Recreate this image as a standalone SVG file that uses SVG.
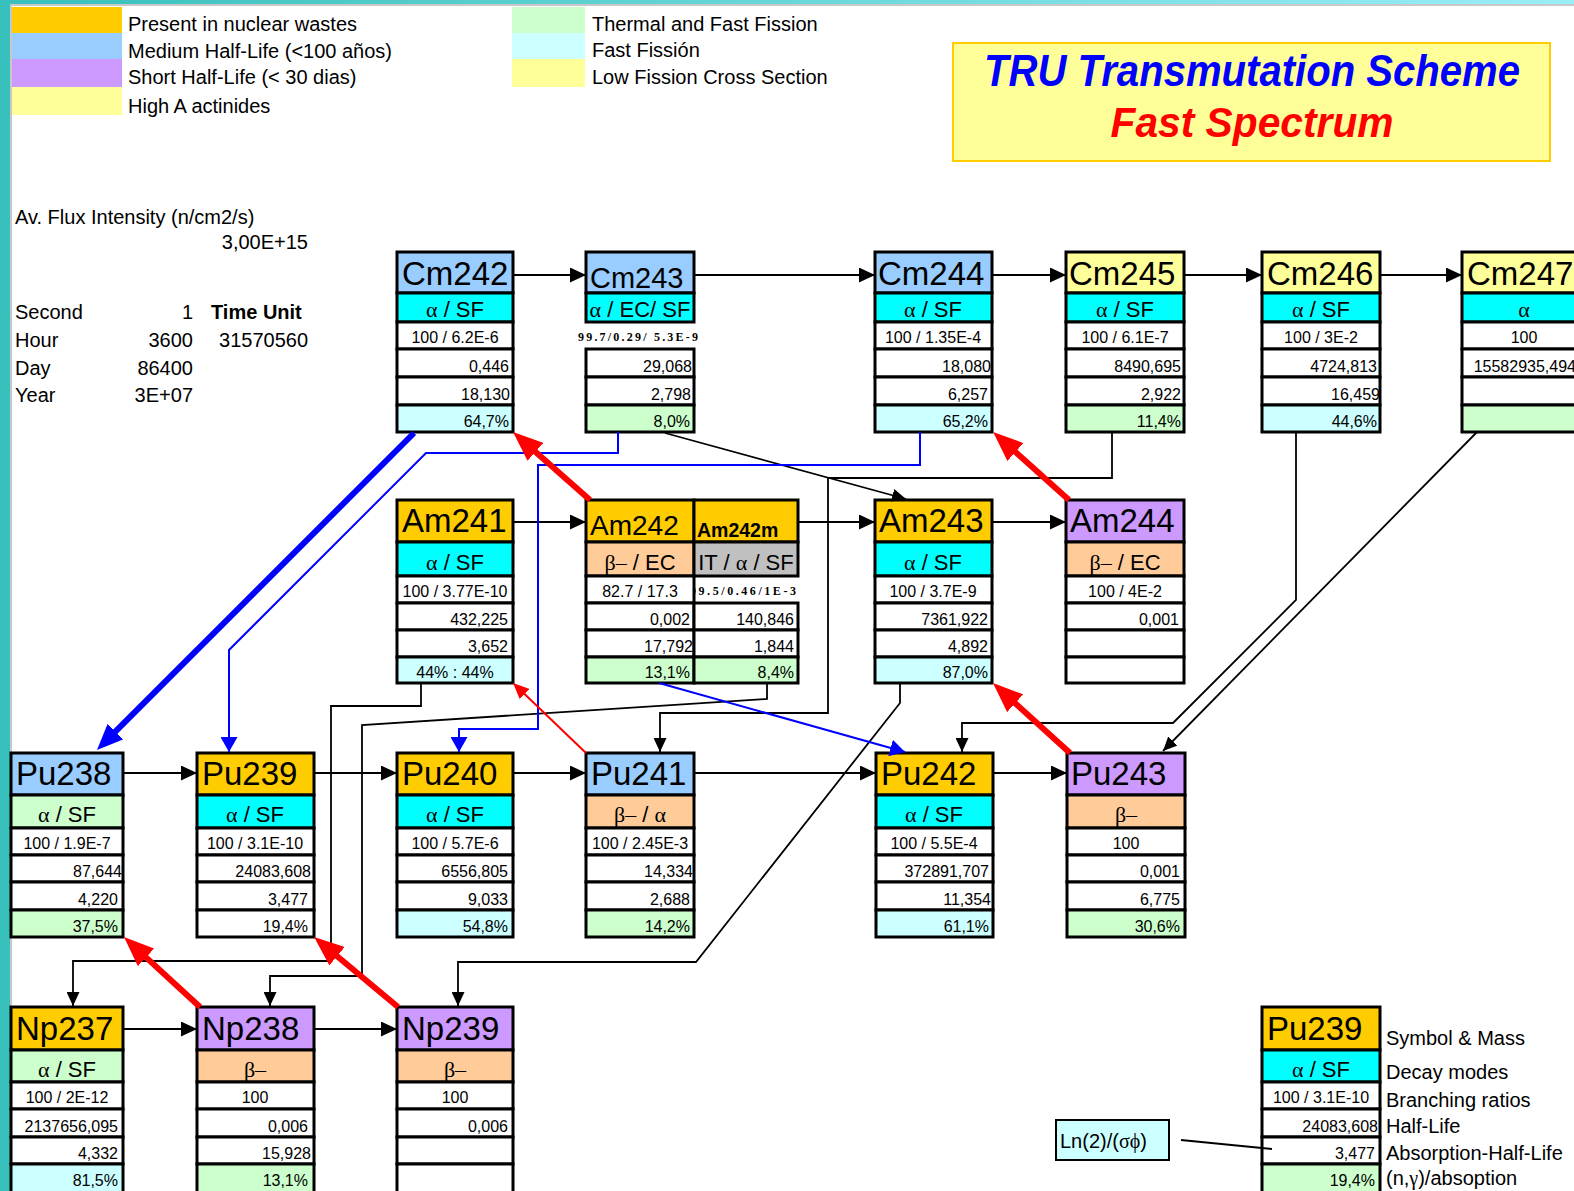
<svg xmlns="http://www.w3.org/2000/svg" width="1574" height="1191" viewBox="0 0 1574 1191" font-family="'Liberation Sans', Arial, sans-serif">
<defs>
<linearGradient id="tg" x1="0" x2="1" y1="0" y2="0"><stop offset="0" stop-color="#38C0BC"/><stop offset="1" stop-color="#9AEEF6"/></linearGradient>
<marker id="mk" markerUnits="userSpaceOnUse" markerWidth="16" markerHeight="15" refX="16" refY="7.5" orient="auto"><path d="M0,0L16,7.5L0,15z" fill="#000"/></marker>
<marker id="mks" markerUnits="userSpaceOnUse" markerWidth="14" markerHeight="13" refX="14" refY="6.5" orient="auto"><path d="M0,0L14,6.5L0,13z" fill="#000"/></marker>
<marker id="mbl" markerUnits="userSpaceOnUse" markerWidth="15" markerHeight="17" refX="15" refY="8.5" orient="auto"><path d="M0,0L15,8.5L0,17z" fill="#00F"/></marker>
<marker id="mbt" markerUnits="userSpaceOnUse" markerWidth="26" markerHeight="22" refX="10" refY="11" orient="auto"><path d="M0,0L26,11L0,22z" fill="#00F"/></marker>
<marker id="mr" markerUnits="userSpaceOnUse" markerWidth="30" markerHeight="24" refX="10" refY="12" orient="auto"><path d="M0,0L30,12L0,24z" fill="#F00"/></marker>
<marker id="mrs" markerUnits="userSpaceOnUse" markerWidth="16" markerHeight="14" refX="8" refY="7" orient="auto"><path d="M0,0L16,7L0,14z" fill="#F00"/></marker>
<clipPath id="c242m"><rect x="695" y="576" width="103" height="27"/></clipPath>
</defs>
<style>
.c{stroke:#000;stroke-width:3}
.h{font-size:33px}
.d{font-size:22px;text-anchor:middle}
.s{font-family:'Liberation Serif','Times New Roman',serif}
.b{font-size:16px;text-anchor:middle}
.r{font-size:16px;text-anchor:end}
.lg{font-size:20px}
.k{fill:none;stroke:#000;stroke-width:1.8}
.bl{fill:none;stroke:#00F;stroke-width:2}
.rd{fill:none;stroke:#F00;stroke-width:6}
.sb{font-family:'Liberation Serif','Times New Roman',serif;font-weight:bold;font-size:12px}
</style>
<rect x="0" y="0" width="1574" height="1191" fill="#fff"/>
<g id="frame">
<rect x="0" y="0" width="10" height="1191" fill="#38C0BC"/>
<rect x="0" y="0" width="1574" height="4" fill="url(#tg)"/>
<rect x="10" y="4" width="1564" height="2" fill="#C8C8C8"/>
<rect x="10" y="4" width="2" height="1187" fill="#C8C8C8"/>
</g>
<g id="legend-colors">
<rect x="12" y="7" width="110" height="26" fill="#FFCC00"/>
<rect x="12" y="33" width="110" height="26" fill="#99CCFF"/>
<rect x="12" y="59" width="110" height="28" fill="#CC99FF"/>
<rect x="12" y="87" width="110" height="28" fill="#FFFF99"/>
<text class="lg" x="128" y="31">Present in nuclear wastes</text>
<text class="lg" x="128" y="58">Medium Half-Life (&lt;100 años)</text>
<text class="lg" x="128" y="84">Short Half-Life (&lt; 30 dias)</text>
<text class="lg" x="128" y="113">High A actinides</text>
<rect x="512" y="7" width="73" height="26" fill="#CCFFCC"/>
<rect x="512" y="33" width="73" height="26" fill="#CCFFFF"/>
<rect x="512" y="59" width="73" height="28" fill="#FFFF99"/>
<text class="lg" x="592" y="31">Thermal and Fast Fission</text>
<text class="lg" x="592" y="57">Fast Fissión</text>
<text class="lg" x="592" y="84">Low Fission Cross Section</text>
</g>
<g id="title">
<rect x="953" y="43" width="597" height="118" fill="#FFFF99" stroke="#FFCC00" stroke-width="2"/>
<text x="1252" y="86" text-anchor="middle" font-size="44" font-weight="bold" font-style="italic" fill="#0000FF" textLength="536" lengthAdjust="spacingAndGlyphs">TRU Transmutation Scheme</text>
<text x="1252" y="137" text-anchor="middle" font-size="43" font-weight="bold" font-style="italic" fill="#FF0000" textLength="283" lengthAdjust="spacingAndGlyphs">Fast Spectrum</text>
</g>
<g id="info" font-size="20">
<text x="15" y="224">Av. Flux Intensity (n/cm2/s)</text>
<text x="308" y="249" text-anchor="end">3,00E+15</text>
<text x="15" y="319">Second</text><text x="193" y="319" text-anchor="end">1</text><text x="211" y="319" font-weight="bold">Time Unit</text>
<text x="15" y="347">Hour</text><text x="193" y="347" text-anchor="end">3600</text><text x="308" y="347" text-anchor="end">31570560</text>
<text x="15" y="375">Day</text><text x="193" y="375" text-anchor="end">86400</text>
<text x="15" y="402">Year</text><text x="193" y="402" text-anchor="end">3E+07</text>
</g>

<g id="Cm242">
<rect class="c" x="397" y="252" width="116" height="41" fill="#99CCFF"/><rect class="c" x="397" y="293" width="116" height="29" fill="#00FFFF"/><rect class="c" x="397" y="322" width="116" height="27" fill="#fff"/><rect class="c" x="397" y="349" width="116" height="28" fill="#fff"/><rect class="c" x="397" y="377" width="116" height="28" fill="#fff"/><rect class="c" x="397" y="405" width="116" height="27" fill="#CCFFFF"/>
<text class="h" x="402" y="285">Cm242</text><text class="d" x="455" y="317"><tspan class="s">α</tspan> / SF</text><text class="b" x="455" y="343">100 / 6.2E-6</text><text class="r" x="509" y="372">0,446</text><text class="r" x="510" y="400">18,130</text><text class="r" x="509" y="427">64,7%</text>
</g>
<g id="Cm243">
<rect class="c" x="586" y="252" width="108" height="41" fill="#99CCFF"/><rect class="c" x="586" y="293" width="108" height="29" fill="#00FFFF"/><rect class="c" x="586" y="349" width="108" height="28" fill="#fff"/><rect class="c" x="586" y="377" width="108" height="28" fill="#fff"/><rect class="c" x="586" y="405" width="108" height="27" fill="#CCFFCC"/>
<text x="590" y="288" font-size="29">Cm243</text><text class="d" x="640" y="317"><tspan class="s">α</tspan> / EC/ SF</text><text class="sb" x="578" y="341" textLength="120" lengthAdjust="spacing">99.7/0.29/ 5.3E-9</text><text class="r" x="692" y="372">29,068</text><text class="r" x="691" y="400">2,798</text><text class="r" x="690" y="427">8,0%</text>
</g>
<g id="Cm244">
<rect class="c" x="875" y="252" width="117" height="41" fill="#99CCFF"/><rect class="c" x="875" y="293" width="117" height="29" fill="#00FFFF"/><rect class="c" x="875" y="322" width="117" height="27" fill="#fff"/><rect class="c" x="875" y="349" width="117" height="28" fill="#fff"/><rect class="c" x="875" y="377" width="117" height="28" fill="#fff"/><rect class="c" x="875" y="405" width="117" height="27" fill="#CCFFFF"/>
<text class="h" x="878" y="285">Cm244</text><text class="d" x="933" y="317"><tspan class="s">α</tspan> / SF</text><text class="b" x="933" y="343">100 / 1.35E-4</text><text class="r" x="991" y="372">18,080</text><text class="r" x="988" y="400">6,257</text><text class="r" x="988" y="427">65,2%</text>
</g>
<g id="Cm245">
<rect class="c" x="1066" y="252" width="118" height="41" fill="#FFFF99"/><rect class="c" x="1066" y="293" width="118" height="29" fill="#00FFFF"/><rect class="c" x="1066" y="322" width="118" height="27" fill="#fff"/><rect class="c" x="1066" y="349" width="118" height="28" fill="#fff"/><rect class="c" x="1066" y="377" width="118" height="28" fill="#fff"/><rect class="c" x="1066" y="405" width="118" height="27" fill="#CCFFCC"/>
<text class="h" x="1069" y="285">Cm245</text><text class="d" x="1125" y="317"><tspan class="s">α</tspan> / SF</text><text class="b" x="1125" y="343">100 / 6.1E-7</text><text class="r" x="1181" y="372">8490,695</text><text class="r" x="1181" y="400">2,922</text><text class="r" x="1181" y="427">11,4%</text>
</g>
<g id="Cm246">
<rect class="c" x="1262" y="252" width="118" height="41" fill="#FFFF99"/><rect class="c" x="1262" y="293" width="118" height="29" fill="#00FFFF"/><rect class="c" x="1262" y="322" width="118" height="27" fill="#fff"/><rect class="c" x="1262" y="349" width="118" height="28" fill="#fff"/><rect class="c" x="1262" y="377" width="118" height="28" fill="#fff"/><rect class="c" x="1262" y="405" width="118" height="27" fill="#CCFFFF"/>
<text class="h" x="1267" y="285">Cm246</text><text class="d" x="1321" y="317"><tspan class="s">α</tspan> / SF</text><text class="b" x="1321" y="343">100 / 3E-2</text><text class="r" x="1377" y="372">4724,813</text><text class="r" x="1380" y="400">16,459</text><text class="r" x="1377" y="427">44,6%</text>
</g>
<g id="Cm247">
<rect class="c" x="1462" y="252" width="122" height="41" fill="#FFFF99"/><rect class="c" x="1462" y="293" width="122" height="29" fill="#00FFFF"/><rect class="c" x="1462" y="322" width="122" height="27" fill="#fff"/><rect class="c" x="1462" y="349" width="122" height="28" fill="#fff"/><rect class="c" x="1462" y="377" width="122" height="28" fill="#fff"/><rect class="c" x="1462" y="405" width="122" height="27" fill="#CCFFCC"/>
<text class="h" x="1467" y="285">Cm247</text><text class="d" x="1524" y="317"><tspan class="s">α</tspan></text><text class="b" x="1524" y="343">100</text><text class="r" x="1576" y="372">15582935,494</text>
</g>

<g id="Am241">
<rect class="c" x="397" y="500" width="116" height="42" fill="#FFCC00"/><rect class="c" x="397" y="542" width="116" height="34" fill="#00FFFF"/><rect class="c" x="397" y="576" width="116" height="27" fill="#fff"/><rect class="c" x="397" y="603" width="116" height="27" fill="#fff"/><rect class="c" x="397" y="630" width="116" height="27" fill="#fff"/><rect class="c" x="397" y="657" width="116" height="26" fill="#CCFFFF"/>
<text class="h" x="402" y="532">Am241</text><text class="d" x="455" y="570"><tspan class="s">α</tspan> / SF</text><text class="b" x="455" y="597">100 / 3.77E-10</text><text class="r" x="508" y="625">432,225</text><text class="r" x="508" y="652">3,652</text><text class="b" x="455" y="678">44% : 44%</text>
</g>
<g id="Am242">
<rect class="c" x="586" y="500" width="108" height="42" fill="#FFCC00"/><rect class="c" x="586" y="542" width="108" height="34" fill="#FFCC99"/><rect class="c" x="586" y="576" width="108" height="27" fill="#fff"/><rect class="c" x="586" y="603" width="108" height="27" fill="#fff"/><rect class="c" x="586" y="630" width="108" height="27" fill="#fff"/><rect class="c" x="586" y="657" width="108" height="26" fill="#CCFFCC"/>
<text x="590" y="535" font-size="28">Am242</text><text class="d" x="640" y="570"><tspan class="s">β–</tspan> / EC</text><text class="b" x="640" y="597">82.7  /  17.3</text><text class="r" x="690" y="625">0,002</text><text class="r" x="693" y="652">17,792</text><text class="r" x="690" y="678">13,1%</text>
</g>
<g id="Am242m">
<rect class="c" x="694" y="500" width="104" height="42" fill="#FFCC00"/><rect class="c" x="694" y="542" width="104" height="34" fill="#C0C0C0"/><rect class="c" x="694" y="603" width="104" height="27" fill="#fff"/><rect class="c" x="694" y="630" width="104" height="27" fill="#fff"/><rect class="c" x="694" y="657" width="104" height="26" fill="#CCFFCC"/>
<text x="697" y="537" font-size="19.5" font-weight="bold">Am242m</text><text class="d" x="746" y="570">IT / <tspan class="s">α</tspan> / SF</text><text class="sb" x="690" y="595" textLength="106" lengthAdjust="spacing" clip-path="url(#c242m)">99.5/0.46/1E-3</text><text class="r" x="794" y="625">140,846</text><text class="r" x="794" y="652">1,844</text><text class="r" x="794" y="678">8,4%</text>
</g>
<g id="Am243">
<rect class="c" x="875" y="500" width="117" height="42" fill="#FFCC00"/><rect class="c" x="875" y="542" width="117" height="34" fill="#00FFFF"/><rect class="c" x="875" y="576" width="117" height="27" fill="#fff"/><rect class="c" x="875" y="603" width="117" height="27" fill="#fff"/><rect class="c" x="875" y="630" width="117" height="27" fill="#fff"/><rect class="c" x="875" y="657" width="117" height="26" fill="#CCFFFF"/>
<text class="h" x="879" y="532">Am243</text><text class="d" x="933" y="570"><tspan class="s">α</tspan> / SF</text><text class="b" x="933" y="597">100 / 3.7E-9</text><text class="r" x="988" y="625">7361,922</text><text class="r" x="988" y="652">4,892</text><text class="r" x="988" y="678">87,0%</text>
</g>
<g id="Am244">
<rect class="c" x="1066" y="500" width="118" height="42" fill="#CC99FF"/><rect class="c" x="1066" y="542" width="118" height="34" fill="#FFCC99"/><rect class="c" x="1066" y="576" width="118" height="27" fill="#fff"/><rect class="c" x="1066" y="603" width="118" height="27" fill="#fff"/><rect class="c" x="1066" y="630" width="118" height="27" fill="#fff"/><rect class="c" x="1066" y="657" width="118" height="26" fill="#fff"/>
<text class="h" x="1070" y="532">Am244</text><text class="d" x="1125" y="570"><tspan class="s">β–</tspan> / EC</text><text class="b" x="1125" y="597">100 / 4E-2</text><text class="r" x="1179" y="625">0,001</text>
</g>

<g id="Pu238">
<rect class="c" x="11" y="753" width="112" height="42" fill="#99CCFF"/><rect class="c" x="11" y="795" width="112" height="33" fill="#CCFFCC"/><rect class="c" x="11" y="828" width="112" height="27" fill="#fff"/><rect class="c" x="11" y="855" width="112" height="27" fill="#fff"/><rect class="c" x="11" y="882" width="112" height="28" fill="#fff"/><rect class="c" x="11" y="910" width="112" height="27" fill="#CCFFCC"/>
<text class="h" x="16" y="785">Pu238</text><text class="d" x="67" y="822"><tspan class="s">α</tspan> / SF</text><text class="b" x="67" y="849">100 / 1.9E-7</text><text class="r" x="122" y="877">87,644</text><text class="r" x="118" y="905">4,220</text><text class="r" x="118" y="932">37,5%</text>
</g>
<g id="Pu239">
<rect class="c" x="197" y="753" width="117" height="42" fill="#FFCC00"/><rect class="c" x="197" y="795" width="117" height="33" fill="#00FFFF"/><rect class="c" x="197" y="828" width="117" height="27" fill="#fff"/><rect class="c" x="197" y="855" width="117" height="27" fill="#fff"/><rect class="c" x="197" y="882" width="117" height="28" fill="#fff"/><rect class="c" x="197" y="910" width="117" height="27" fill="#fff"/>
<text class="h" x="202" y="785">Pu239</text><text class="d" x="255" y="822"><tspan class="s">α</tspan> / SF</text><text class="b" x="255" y="849">100 / 3.1E-10</text><text class="r" x="311" y="877">24083,608</text><text class="r" x="308" y="905">3,477</text><text class="r" x="308" y="932">19,4%</text>
</g>
<g id="Pu240">
<rect class="c" x="397" y="753" width="116" height="42" fill="#FFCC00"/><rect class="c" x="397" y="795" width="116" height="33" fill="#00FFFF"/><rect class="c" x="397" y="828" width="116" height="27" fill="#fff"/><rect class="c" x="397" y="855" width="116" height="27" fill="#fff"/><rect class="c" x="397" y="882" width="116" height="28" fill="#fff"/><rect class="c" x="397" y="910" width="116" height="27" fill="#CCFFFF"/>
<text class="h" x="402" y="785">Pu240</text><text class="d" x="455" y="822"><tspan class="s">α</tspan> / SF</text><text class="b" x="455" y="849">100 / 5.7E-6</text><text class="r" x="508" y="877">6556,805</text><text class="r" x="508" y="905">9,033</text><text class="r" x="508" y="932">54,8%</text>
</g>
<g id="Pu241">
<rect class="c" x="586" y="753" width="108" height="42" fill="#99CCFF"/><rect class="c" x="586" y="795" width="108" height="33" fill="#FFCC99"/><rect class="c" x="586" y="828" width="108" height="27" fill="#fff"/><rect class="c" x="586" y="855" width="108" height="27" fill="#fff"/><rect class="c" x="586" y="882" width="108" height="28" fill="#fff"/><rect class="c" x="586" y="910" width="108" height="27" fill="#CCFFCC"/>
<text class="h" x="591" y="785">Pu241</text><text class="d" x="640" y="822"><tspan class="s">β–</tspan> / <tspan class="s">α</tspan></text><text class="b" x="640" y="849">100 / 2.45E-3</text><text class="r" x="693" y="877">14,334</text><text class="r" x="690" y="905">2,688</text><text class="r" x="690" y="932">14,2%</text>
</g>
<g id="Pu242">
<rect class="c" x="876" y="753" width="117" height="42" fill="#FFCC00"/><rect class="c" x="876" y="795" width="117" height="33" fill="#00FFFF"/><rect class="c" x="876" y="828" width="117" height="27" fill="#fff"/><rect class="c" x="876" y="855" width="117" height="27" fill="#fff"/><rect class="c" x="876" y="882" width="117" height="28" fill="#fff"/><rect class="c" x="876" y="910" width="117" height="27" fill="#CCFFFF"/>
<text class="h" x="881" y="785">Pu242</text><text class="d" x="934" y="822"><tspan class="s">α</tspan> / SF</text><text class="b" x="934" y="849">100 / 5.5E-4</text><text class="r" x="989" y="877">372891,707</text><text class="r" x="991" y="905">11,354</text><text class="r" x="989" y="932">61,1%</text>
</g>
<g id="Pu243">
<rect class="c" x="1067" y="753" width="118" height="42" fill="#CC99FF"/><rect class="c" x="1067" y="795" width="118" height="33" fill="#FFCC99"/><rect class="c" x="1067" y="828" width="118" height="27" fill="#fff"/><rect class="c" x="1067" y="855" width="118" height="27" fill="#fff"/><rect class="c" x="1067" y="882" width="118" height="28" fill="#fff"/><rect class="c" x="1067" y="910" width="118" height="27" fill="#CCFFCC"/>
<text class="h" x="1071" y="785">Pu243</text><text class="d" x="1126" y="822"><tspan class="s">β–</tspan></text><text class="b" x="1126" y="849">100</text><text class="r" x="1180" y="877">0,001</text><text class="r" x="1180" y="905">6,775</text><text class="r" x="1180" y="932">30,6%</text>
</g>

<g id="Np237">
<rect class="c" x="11" y="1007" width="112" height="43" fill="#FFCC00"/><rect class="c" x="11" y="1050" width="112" height="32" fill="#CCFFCC"/><rect class="c" x="11" y="1082" width="112" height="27" fill="#fff"/><rect class="c" x="11" y="1109" width="112" height="28" fill="#fff"/><rect class="c" x="11" y="1137" width="112" height="27" fill="#fff"/><rect class="c" x="11" y="1164" width="112" height="30" fill="#CCFFFF"/>
<text class="h" x="16" y="1040">Np237</text><text class="d" x="67" y="1077"><tspan class="s">α</tspan> / SF</text><text class="b" x="67" y="1103">100 / 2E-12</text><text class="r" x="118" y="1132">2137656,095</text><text class="r" x="118" y="1159">4,332</text><text class="r" x="118" y="1186">81,5%</text>
</g>
<g id="Np238">
<rect class="c" x="197" y="1007" width="117" height="43" fill="#CC99FF"/><rect class="c" x="197" y="1050" width="117" height="32" fill="#FFCC99"/><rect class="c" x="197" y="1082" width="117" height="27" fill="#fff"/><rect class="c" x="197" y="1109" width="117" height="28" fill="#fff"/><rect class="c" x="197" y="1137" width="117" height="27" fill="#fff"/><rect class="c" x="197" y="1164" width="117" height="30" fill="#CCFFCC"/>
<text class="h" x="202" y="1040">Np238</text><text class="d" x="255" y="1077"><tspan class="s">β–</tspan></text><text class="b" x="255" y="1103">100</text><text class="r" x="308" y="1132">0,006</text><text class="r" x="311" y="1159">15,928</text><text class="r" x="308" y="1186">13,1%</text>
</g>
<g id="Np239">
<rect class="c" x="397" y="1007" width="116" height="43" fill="#CC99FF"/><rect class="c" x="397" y="1050" width="116" height="32" fill="#FFCC99"/><rect class="c" x="397" y="1082" width="116" height="27" fill="#fff"/><rect class="c" x="397" y="1109" width="116" height="28" fill="#fff"/><rect class="c" x="397" y="1137" width="116" height="27" fill="#fff"/><rect class="c" x="397" y="1164" width="116" height="30" fill="#fff"/>
<text class="h" x="402" y="1040">Np239</text><text class="d" x="455" y="1077"><tspan class="s">β–</tspan></text><text class="b" x="455" y="1103">100</text><text class="r" x="508" y="1132">0,006</text>
</g>

<g id="legend-node">
<rect class="c" x="1262" y="1007" width="118" height="43" fill="#FFCC00"/><rect class="c" x="1262" y="1050" width="118" height="32" fill="#00FFFF"/><rect class="c" x="1262" y="1082" width="118" height="27" fill="#fff"/><rect class="c" x="1262" y="1109" width="118" height="28" fill="#fff"/><rect class="c" x="1262" y="1137" width="118" height="27" fill="#fff"/><rect class="c" x="1262" y="1164" width="118" height="30" fill="#CCFFCC"/>
<text class="h" x="1267" y="1040">Pu239</text><text class="d" x="1321" y="1077"><tspan class="s">α</tspan> / SF</text><text class="b" x="1321" y="1103">100 / 3.1E-10</text><text class="r" x="1378" y="1132">24083,608</text><text class="r" x="1375" y="1159">3,477</text><text class="r" x="1375" y="1186">19,4%</text>
<text class="lg" x="1386" y="1045">Symbol &amp; Mass</text>
<text class="lg" x="1386" y="1079">Decay modes</text>
<text class="lg" x="1386" y="1107">Branching ratios</text>
<text class="lg" x="1386" y="1133">Half-Life</text>
<text class="lg" x="1386" y="1160">Absorption-Half-Life</text>
<text class="lg" x="1386" y="1185">(n,<tspan class="s">γ</tspan>)/absoption</text>
</g>
<g id="ln-note">
<rect x="1056" y="1120" width="113" height="40" fill="#CCFFFF" stroke="#000" stroke-width="2"/>
<text class="lg" x="1060" y="1148">Ln(2)/(<tspan class="s">σϕ</tspan>)</text>
<path d="M1181,1140L1272,1149" fill="none" stroke="#000" stroke-width="1.8"/>
</g>

<g id="connectors">
<path class="k" d="M513,275H586" marker-end="url(#mk)"/>
<path class="k" d="M694,275H875" marker-end="url(#mk)"/>
<path class="k" d="M992,275H1066" marker-end="url(#mk)"/>
<path class="k" d="M1184,275H1262" marker-end="url(#mk)"/>
<path class="k" d="M1380,275H1462" marker-end="url(#mk)"/>
<path class="k" d="M513,522H586" marker-end="url(#mk)"/>
<path class="k" d="M798,522H875" marker-end="url(#mk)"/>
<path class="k" d="M992,522H1066" marker-end="url(#mk)"/>
<path class="k" d="M123,773H197" marker-end="url(#mk)"/>
<path class="k" d="M314,773H397" marker-end="url(#mk)"/>
<path class="k" d="M513,773H586" marker-end="url(#mk)"/>
<path class="k" d="M694,773H876" marker-end="url(#mk)"/>
<path class="k" d="M993,773H1067" marker-end="url(#mk)"/>
<path class="k" d="M123,1029H197" marker-end="url(#mk)"/>
<path class="k" d="M314,1029H397" marker-end="url(#mk)"/>
<path class="k" d="M665,433L906,499" marker-end="url(#mks)"/>
<path class="k" d="M1112,432V478H828V713H660V752" marker-end="url(#mks)"/>
<path class="k" d="M1296,432V600L1173,723H962V752" marker-end="url(#mks)"/>
<path class="k" d="M1477,432L1163,751" marker-end="url(#mks)"/>
<path class="k" d="M421,683V706H331V961H73V1006" marker-end="url(#mks)"/>
<path class="k" d="M767,683V699L362,725V976H270V1006" marker-end="url(#mks)"/>
<path class="k" d="M900,683V703L696,962H458V1006" marker-end="url(#mks)"/>
<path class="bl" d="M618,432V453H426L229,650V752" marker-end="url(#mbl)"/>
<path class="bl" d="M920,432V465H538V729H459V752" marker-end="url(#mbl)"/>
<path class="bl" d="M659,683L905,752" marker-end="url(#mbl)"/>
<path fill="none" stroke="#00F" stroke-width="6" d="M414,433L108.3,738.7" marker-end="url(#mbt)"/>
<path class="rd" d="M590,500L528,445.2" marker-end="url(#mr)"/>
<path class="rd" d="M1069,500L1008,445.3" marker-end="url(#mr)"/>
<path class="rd" d="M1070,753L1007.8,696.5" marker-end="url(#mr)"/>
<path class="rd" d="M200,1007L138.7,950.6" marker-end="url(#mr)"/>
<path class="rd" d="M398,1007L329.4,949.8" marker-end="url(#mr)"/>
<path fill="none" stroke="#F00" stroke-width="2" d="M586,753L518.8,688.5" marker-end="url(#mrs)"/>
</g>
</svg>
